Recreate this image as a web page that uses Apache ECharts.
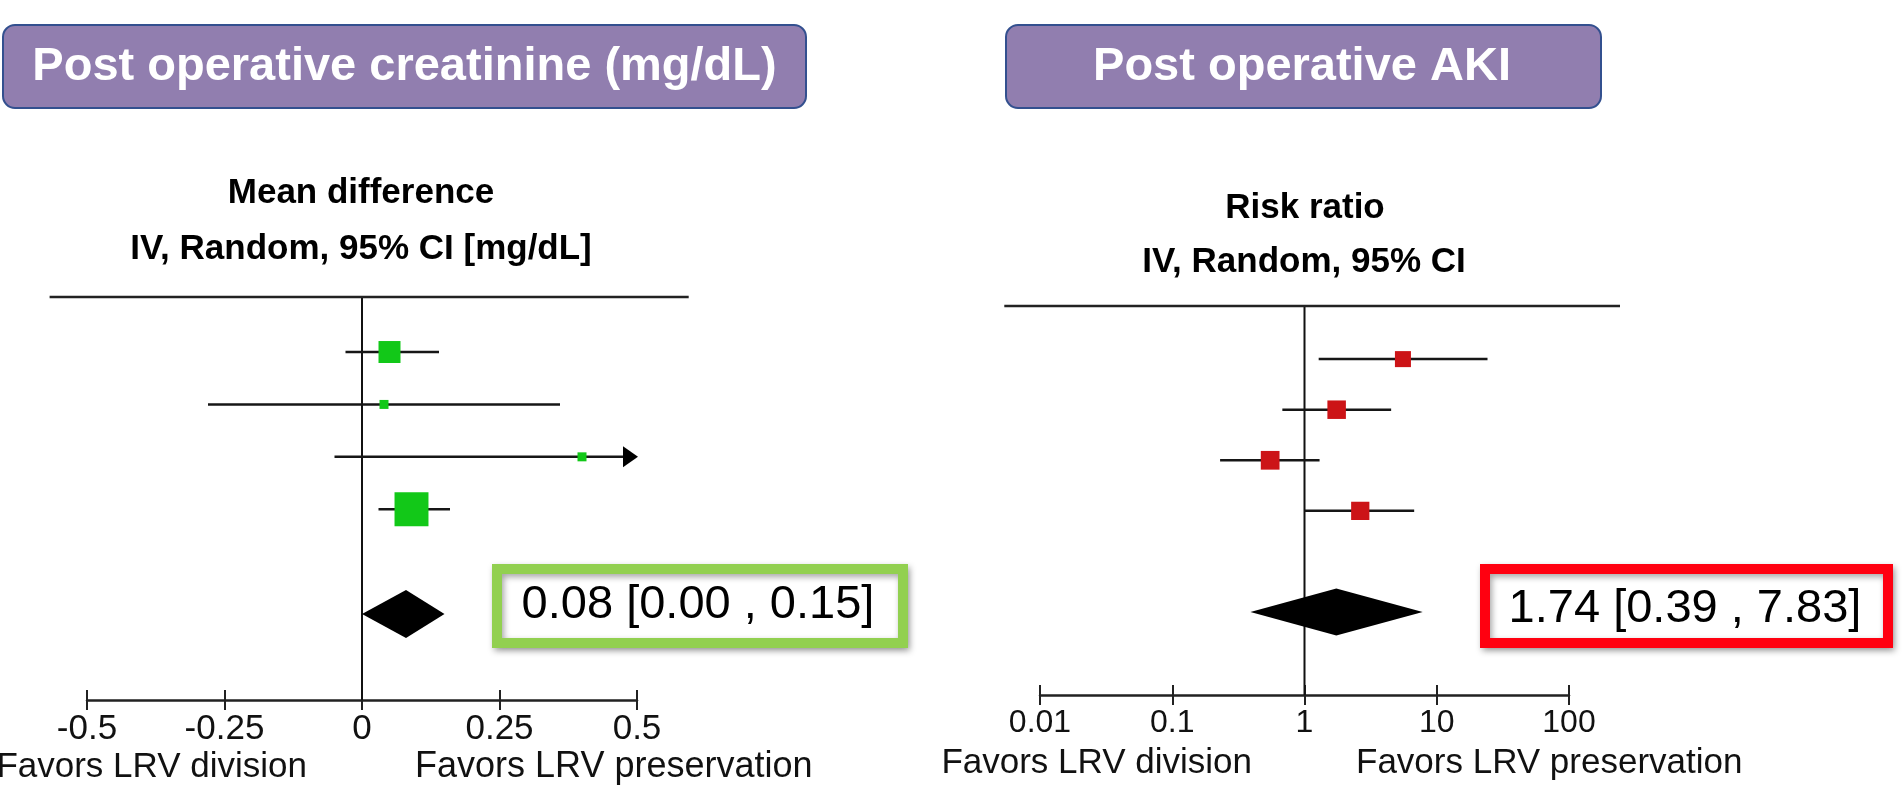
<!DOCTYPE html>
<html>
<head>
<meta charset="utf-8">
<script src="https://cdn.jsdelivr.net/npm/echarts@6/dist/echarts.min.js"></script>
<style>
html,body{margin:0;padding:0;background:#ffffff;}
#c{width:1902px;height:808px;}
</style>
</head>
<body>
<div id="c"></div>
<script>
// ================= DATA =================
// Left panel: post operative creatinine, mean difference (mg/dL)
const mdRows   = [1, 2, 3, 4];
const mdEst    = [0.05, 0.04, 0.40, 0.09];
const mdLow    = [-0.03, -0.28, -0.05, 0.03];
const mdHigh   = [0.14, 0.36, 0.85, 0.16];
const mdWeight = [26.9, 4.5, 4.5, 64.1];          // study weights (%)
const mdPooledRow = 6;
const mdPooled = [0.08, 0.00, 0.15];              // estimate, low, high
const mdTicks      = [-0.5, -0.25, 0, 0.25, 0.5];
const mdTickLabels = ['-0.5', '-0.25', '0', '0.25', '0.5'];

// Right panel: post operative AKI, risk ratio
const rrRows   = [1, 2, 3, 4];
const rrEst    = [5.55, 1.75, 0.55, 2.64];
const rrLow    = [1.28, 0.68, 0.23, 1.00];
const rrHigh   = [24.2, 4.52, 1.30, 6.75];
const rrWeight = [20.0, 26.7, 27.3, 26.0];        // study weights (%)
const rrPooledRow = 6;
const rrPooled = [1.74, 0.39, 7.83];
const rrTicks      = [0.01, 0.1, 1, 10, 100];
const rrTickLabels = ['0.01', '0.1', '1', '10', '100'];

// Texts
const leftTitle  = 'Post operative creatinine (mg/dL)';
const rightTitle = 'Post operative AKI';
const leftSub1  = 'Mean difference';
const leftSub2  = 'IV, Random, 95% CI [mg/dL]';
const rightSub1 = 'Risk ratio';
const rightSub2 = 'IV, Random, 95% CI';
const favorsLeft  = 'Favors LRV division';
const favorsRight = 'Favors LRV preservation';

// ================= LAYOUT / STYLE =================
const FONT = '"Liberation Sans", Arial, Helvetica, sans-serif';
const ROW_MIN = -0.05, ROW_MAX = 7.64;
const INK = '#161616';

function fmt2(v) { return v.toFixed(2); }
function pooledText(p) { return fmt2(p[0]) + ' [' + fmt2(p[1]) + ' , ' + fmt2(p[2]) + ']'; }
function tickFormatter(ticks, labels) {
  return function (v) {
    for (let i = 0; i < ticks.length; i++) {
      if (Math.abs(ticks[i] - v) <= 1e-6 * Math.max(1, Math.abs(ticks[i]))) return labels[i];
    }
    return '';
  };
}

function studyRenderer(axisMin, axisMax, sizeK, color) {
  return function (params, api) {
    const row = api.value(0), est = api.value(1), lo = api.value(2), hi = api.value(3), w = api.value(4);
    const loC = Math.max(lo, axisMin), hiC = Math.min(hi, axisMax);
    const a = api.coord([loC, row]);
    const b = api.coord([hiC, row]);
    const c = api.coord([est, row]);
    const s = sizeK * Math.sqrt(w);
    const arrowLen = 14, arrowHalf = 10.5;
    const children = [];
    const truncated = hi > axisMax;
    children.push({
      type: 'line',
      shape: { x1: a[0], y1: a[1], x2: truncated ? b[0] - arrowLen + 1 : b[0], y2: b[1] },
      style: { stroke: INK, lineWidth: 2.5 }
    });
    if (truncated) {
      children.push({
        type: 'polygon',
        shape: { points: [[b[0] + 1, b[1]], [b[0] - arrowLen, b[1] - arrowHalf], [b[0] - arrowLen, b[1] + arrowHalf]] },
        style: { fill: '#000' }
      });
    }
    children.push({
      type: 'rect',
      shape: { x: c[0] - s / 2, y: c[1] - s / 2, width: s, height: s },
      style: { fill: color }
    });
    return { type: 'group', children: children };
  };
}

function pooledRenderer(halfH) {
  return function (params, api) {
    const row = api.value(0), est = api.value(1), lo = api.value(2), hi = api.value(3);
    const pl = api.coord([lo, row]), pe = api.coord([est, row]), ph = api.coord([hi, row]);
    return {
      type: 'polygon',
      shape: { points: [[pl[0], pl[1]], [pe[0], pe[1] - halfH], [ph[0], ph[1]], [pe[0], pe[1] + halfH]] },
      style: { fill: '#000' }
    };
  };
}

function frameRenderer(ruleFrom, ruleTo) {
  return function (params, api) {
    const nv = api.value(0);
    const top = api.coord([nv, ROW_MIN]);
    const bot = api.coord([nv, ROW_MAX]);
    const r1 = api.coord([ruleFrom, ROW_MIN]);
    const r2 = api.coord([ruleTo, ROW_MIN]);
    return {
      type: 'group',
      children: [
        { type: 'line', shape: { x1: top[0], y1: top[1], x2: bot[0], y2: bot[1] }, style: { stroke: '#111', lineWidth: 2 } },
        { type: 'line', shape: { x1: r1[0], y1: r1[1], x2: r2[0], y2: r2[1] }, style: { stroke: '#222', lineWidth: 2.5 } }
      ]
    };
  };
}

function mainAxis(gridIndex, type, min, max, interval, ticks, labels, fontSize) {
  const ax = {
    gridIndex: gridIndex, type: type, min: min, max: max, position: 'bottom',
    axisLine: { show: true, onZero: false, lineStyle: { color: '#222', width: 2.5 } },
    axisTick: { show: true, inside: false, length: 10, lineStyle: { color: '#222', width: 2 } },
    axisLabel: { show: true, margin: 12, fontSize: fontSize, color: '#111', fontFamily: FONT,
                 formatter: tickFormatter(ticks, labels) },
    splitLine: { show: false }
  };
  if (type === 'log') ax.logBase = 10; else ax.interval = interval;
  return ax;
}
function innerTickAxis(gridIndex, type, min, max, interval) {
  const ax = {
    gridIndex: gridIndex, type: type, min: min, max: max, position: 'bottom', offset: 0,
    axisLine: { show: false, onZero: false },
    axisTick: { show: true, inside: true, length: 10, lineStyle: { color: '#222', width: 2 } },
    axisLabel: { show: false },
    splitLine: { show: false }
  };
  if (type === 'log') ax.logBase = 10; else ax.interval = interval;
  return ax;
}

function textEl(x, y, text, size, weight, color, align) {
  return {
    type: 'text', x: x, y: y, silent: true,
    style: {
      text: text, fontSize: size, fontWeight: weight, fontFamily: FONT, fill: color,
      align: align, textAlign: align, verticalAlign: 'middle', textVerticalAlign: 'middle'
    }
  };
}

const chart = echarts.init(document.getElementById('c'), null, { renderer: 'canvas' });

const option = {
  animation: false,
  backgroundColor: '#ffffff',
  grid: [
    { left: 87, top: 297, width: 550, height: 403 },
    { left: 1040, top: 306, width: 529, height: 389 }
  ],
  xAxis: [
    mainAxis(0, 'value', -0.5, 0.5, 0.25, mdTicks, mdTickLabels, 35),
    innerTickAxis(0, 'value', -0.5, 0.5, 0.25),
    mainAxis(1, 'log', 0.01, 100, null, rrTicks, rrTickLabels, 32),
    innerTickAxis(1, 'log', 0.01, 100, null)
  ],
  yAxis: [
    { gridIndex: 0, type: 'value', inverse: true, min: ROW_MIN, max: ROW_MAX, show: false },
    { gridIndex: 1, type: 'value', inverse: true, min: ROW_MIN, max: ROW_MAX, show: false }
  ],
  series: [
    { type: 'custom', name: 'md-frame', xAxisIndex: 0, yAxisIndex: 0, clip: false, silent: true,
      encode: { x: 0, y: 1 }, data: [[0, ROW_MIN]], renderItem: frameRenderer(-0.568, 0.594) },
    { type: 'custom', name: 'md-studies', xAxisIndex: 0, yAxisIndex: 0, clip: false, silent: true,
      encode: { x: 1, y: 0 },
      data: mdRows.map((r, i) => [r, mdEst[i], mdLow[i], mdHigh[i], mdWeight[i]]),
      renderItem: studyRenderer(-0.5, 0.5, 4.24, '#12C818') },
    { type: 'custom', name: 'md-pooled', xAxisIndex: 0, yAxisIndex: 0, clip: false, silent: true,
      encode: { x: 1, y: 0 },
      data: [[mdPooledRow, mdPooled[0], mdPooled[1], mdPooled[2]]],
      renderItem: pooledRenderer(24) },

    { type: 'custom', name: 'rr-frame', xAxisIndex: 2, yAxisIndex: 1, clip: false, silent: true,
      encode: { x: 0, y: 1 }, data: [[1, ROW_MIN]], renderItem: frameRenderer(0.00537, 243) },
    { type: 'custom', name: 'rr-studies', xAxisIndex: 2, yAxisIndex: 1, clip: false, silent: true,
      encode: { x: 1, y: 0 },
      data: rrRows.map((r, i) => [r, rrEst[i], rrLow[i], rrHigh[i], rrWeight[i]]),
      renderItem: studyRenderer(0.01, 100, 3.58, '#CC1417') },
    { type: 'custom', name: 'rr-pooled', xAxisIndex: 2, yAxisIndex: 1, clip: false, silent: true,
      encode: { x: 1, y: 0 },
      data: [[rrPooledRow, rrPooled[0], rrPooled[1], rrPooled[2]]],
      renderItem: pooledRenderer(23.5) }
  ],
  graphic: [
    // title boxes
    { type: 'rect', silent: true, shape: { x: 3, y: 25, width: 803, height: 83, r: 12 },
      style: { fill: '#917EAF', stroke: '#33508F', lineWidth: 2 } },
    textEl(404.5, 67, leftTitle, 47, 'bold', '#ffffff', 'center'),
    { type: 'rect', silent: true, shape: { x: 1006, y: 25, width: 595, height: 83, r: 12 },
      style: { fill: '#917EAF', stroke: '#33508F', lineWidth: 2 } },
    textEl(1302, 67, rightTitle, 47, 'bold', '#ffffff', 'center'),

    // subtitles
    textEl(361, 193, leftSub1, 35, 'bold', '#000', 'center'),
    textEl(361, 249, leftSub2, 35, 'bold', '#000', 'center'),
    textEl(1305, 208, rightSub1, 35, 'bold', '#000', 'center'),
    textEl(1304, 262, rightSub2, 35, 'bold', '#000', 'center'),

    // pooled summary boxes
    { type: 'rect', silent: true, shape: { x: 497, y: 569, width: 406, height: 74 },
      style: { fill: '#ffffff', stroke: '#92D050', lineWidth: 10,
               shadowBlur: 6, shadowColor: 'rgba(0,0,0,0.35)', shadowOffsetX: 2, shadowOffsetY: 3 } },
    textEl(698, 605, pooledText(mdPooled), 47, 'normal', '#000', 'center'),
    { type: 'rect', silent: true, shape: { x: 1485, y: 569, width: 403, height: 74 },
      style: { fill: '#ffffff', stroke: '#FF0010', lineWidth: 10,
               shadowBlur: 6, shadowColor: 'rgba(0,0,0,0.35)', shadowOffsetX: 2, shadowOffsetY: 3 } },
    textEl(1685, 609, pooledText(rrPooled), 47, 'normal', '#000', 'center'),

    // favors labels
    textEl(307, 767, favorsLeft, 35, 'normal', '#111', 'right'),
    textEl(415, 767, favorsRight, 36, 'normal', '#111', 'left'),
    textEl(1252, 763, favorsLeft, 35, 'normal', '#111', 'right'),
    textEl(1356, 763, favorsRight, 35, 'normal', '#111', 'left')
  ]
};

chart.setOption(option);
</script>
</body>
</html>
